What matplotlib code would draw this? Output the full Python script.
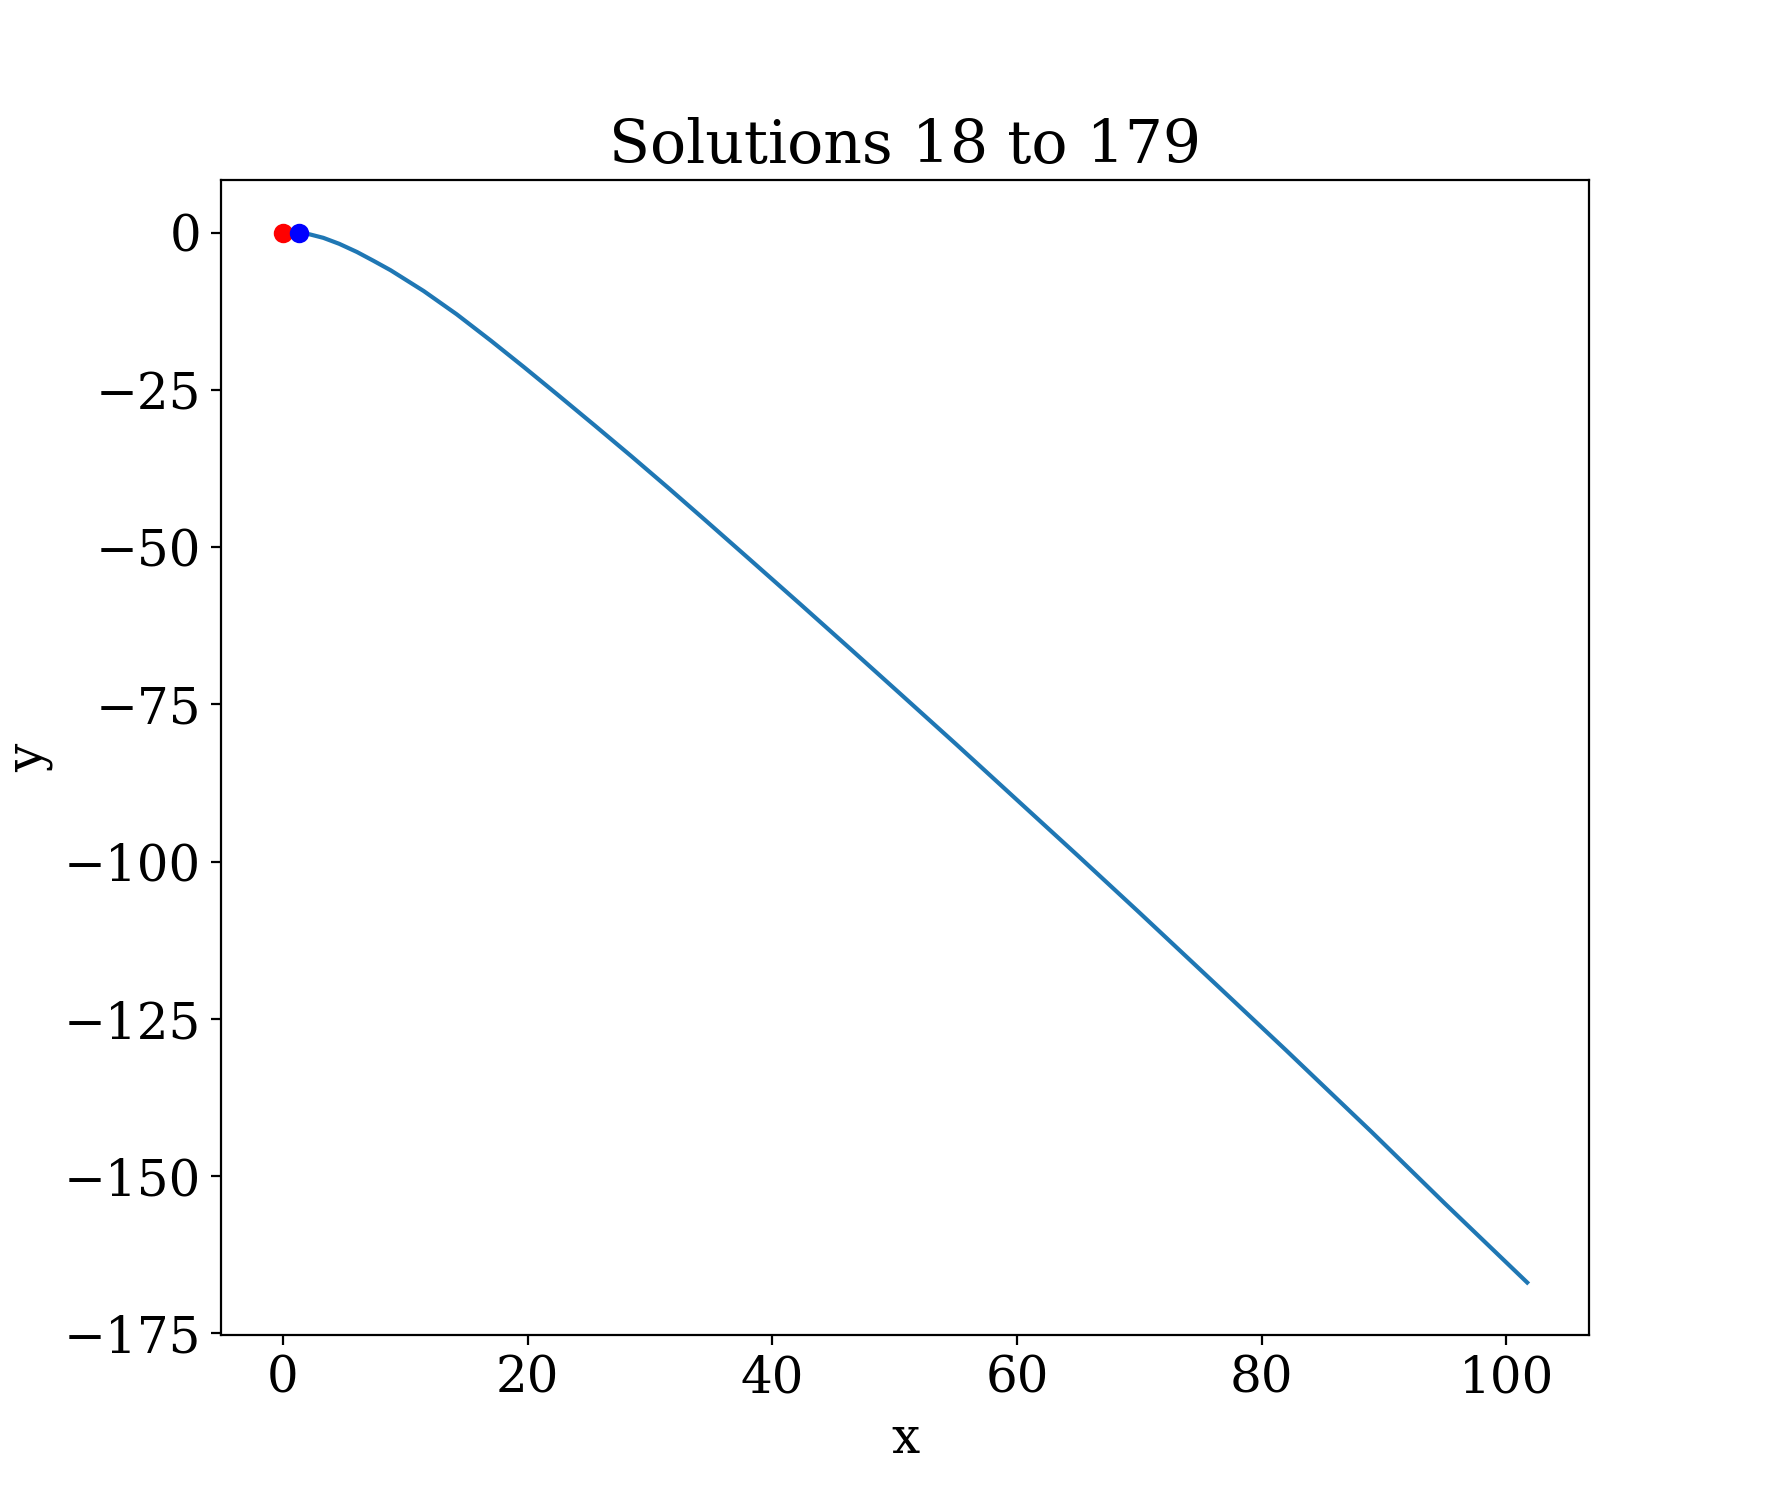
import matplotlib
matplotlib.use("Agg")
import matplotlib.pyplot as plt

plt.rcParams['font.family'] = 'serif'
plt.rcParams['font.size'] = 18

# trajectory
curveX = [1.28, 2.2, 3.3, 4.6, 6.05, 7.4, 8.8, 11.5, 14.2, 17.0, 19.7, 22.4,
          25.5, 28.5, 31.5, 34.5, 38.0, 42.3, 46.5, 50.5, 55.0, 60.0, 65.0,
          70.0, 76.2, 82.0, 89.0, 95.0, 101.7]
curveY = [0.0, -0.3, -0.85, -1.8, -3.1, -4.5, -6.0, -9.3, -13.0, -17.2, -21.4,
          -25.7, -30.7, -35.6, -40.6, -45.7, -51.7, -59.1, -66.4, -73.4, -81.3,
          -90.2, -99.1, -108.1, -119.4, -130.0, -143.0, -154.4, -166.9]

startPoint = (0.0, 0.0)
endPoint = (1.28, 0.0)

firstSolution = 18
lastSolution = 179

fig = plt.figure(figsize=(8.83, 7.5), dpi=200)
plt.plot(curveX, curveY)
plt.plot(startPoint[0], startPoint[1], 'ro')
plt.plot(endPoint[0], endPoint[1], 'bo')
plt.xlabel('x')
plt.ylabel('y')
plt.title('Solutions %d to %d' % (firstSolution, lastSolution))
plt.savefig('out.png', dpi=200)
